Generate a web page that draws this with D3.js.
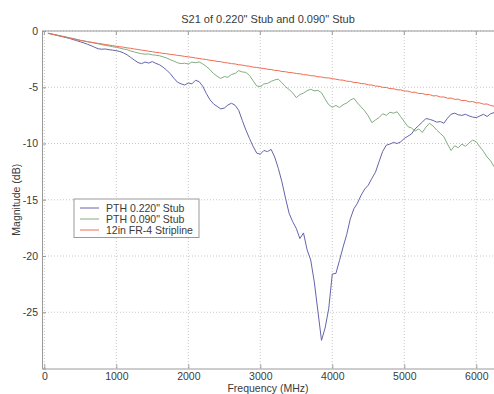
<!DOCTYPE html>
<html>
<head>
<meta charset="utf-8">
<script src="https://cdn.jsdelivr.net/npm/d3@7"></script>
<style>
  html, body { margin: 0; padding: 0; background: #fff; }
  svg { display: block; font-family: "Liberation Sans", Arial, sans-serif; }
</style>
</head>
<body>
<svg id="chart" width="494" height="394"></svg>
<script>
// Frequency grid (MHz), 50 MHz spacing from 50 to 6250
const freqs = d3.range(50, 6251, 50);

// S21 magnitude (dB) — PTH via with 0.220" stub
const pth220 = [
  -0.20, -0.27, -0.35, -0.42, -0.50, -0.58, -0.66, -0.76, -0.86, -0.96,
  -1.06, -1.18, -1.30, -1.45, -1.58, -1.62, -1.60, -1.66, -1.70, -1.75,
  -1.82, -1.95, -2.12, -2.35, -2.58, -2.80, -2.90, -2.76, -2.85, -2.72,
  -2.88, -3.00, -3.22, -3.48, -3.80, -4.20, -4.55, -4.70, -4.80, -4.62,
  -4.70, -4.38, -4.50, -4.90, -5.55, -6.10, -6.48, -6.70, -6.92, -6.85,
  -6.58, -6.42, -6.60, -7.05, -7.95, -8.80, -9.55, -10.25, -10.85, -10.95,
  -10.62, -10.72, -10.52, -11.20, -12.20, -13.40, -14.85, -16.20, -16.95, -17.55,
  -18.45, -17.95, -19.45, -20.35, -22.30, -24.90, -27.50, -26.40, -24.70, -21.60,
  -21.55, -20.40, -19.20, -18.10, -16.70, -15.80, -15.30, -14.60, -14.05, -13.70,
  -13.10, -12.55, -11.60, -10.70, -10.15, -10.05, -9.90, -10.00, -9.85, -9.55,
  -9.35, -9.15, -8.70, -8.40, -8.10, -7.78, -7.85, -7.95, -8.10, -8.05,
  -8.20, -7.75, -7.40, -7.30, -7.45, -7.50, -7.40, -7.55, -7.65, -7.70,
  -7.55, -7.40, -7.60, -7.35, -7.25
];

// S21 magnitude (dB) — PTH via with 0.090" stub
const pth090 = [
  -0.20, -0.26, -0.33, -0.39, -0.46, -0.52, -0.60, -0.66, -0.74, -0.82,
  -0.88, -0.95, -1.01, -1.08, -1.14, -1.22, -1.28, -1.33, -1.40, -1.45,
  -1.52, -1.60, -1.66, -1.78, -1.86, -1.95, -2.02, -2.06, -2.04, -2.12,
  -2.15, -2.20, -2.30, -2.40, -2.55, -2.68, -2.82, -2.90, -2.86, -2.93,
  -2.76, -2.82, -2.75, -2.92, -3.15, -3.42, -3.78, -4.02, -4.22, -4.05,
  -4.12, -3.86, -3.78, -3.52, -3.64, -3.68, -3.95, -4.42, -4.88, -4.95,
  -4.70, -4.66, -4.48, -4.35, -4.28, -4.60, -4.95, -5.20, -5.50, -5.92,
  -5.65, -5.52, -5.30, -5.18, -5.32, -5.28, -5.48, -6.05, -6.55, -6.78,
  -6.62, -6.80, -6.55, -6.40, -6.15, -5.98, -6.40, -6.75, -7.10, -7.55,
  -8.15, -7.90, -7.70, -7.35, -7.50, -7.22, -7.30, -7.18, -7.62, -8.05,
  -8.50, -8.62, -8.90, -8.70, -9.02, -8.55, -8.20, -8.45, -8.80, -9.10,
  -9.40, -10.05, -10.62, -10.20, -10.38, -10.05, -10.25, -9.95, -9.70, -9.85,
  -10.30, -10.70, -11.20, -11.55, -12.10
];

// S21 magnitude (dB) — 12 in FR-4 stripline reference
const stripline = [
  -0.20, -0.27, -0.34, -0.42, -0.49, -0.56, -0.63, -0.70, -0.77, -0.84,
  -0.89, -0.95, -1.00, -1.05, -1.10, -1.15, -1.20, -1.25, -1.30, -1.35,
  -1.40, -1.44, -1.50, -1.54, -1.60, -1.64, -1.70, -1.74, -1.80, -1.84,
  -1.90, -1.93, -1.99, -2.02, -2.08, -2.11, -2.17, -2.20, -2.26, -2.30,
  -2.34, -2.40, -2.44, -2.50, -2.53, -2.60, -2.63, -2.70, -2.73, -2.80,
  -2.84, -2.90, -2.93, -3.00, -3.03, -3.10, -3.13, -3.21, -3.24, -3.30,
  -3.33, -3.40, -3.42, -3.50, -3.52, -3.60, -3.62, -3.69, -3.71, -3.78,
  -3.80, -3.88, -3.90, -3.97, -3.99, -4.07, -4.09, -4.16, -4.17, -4.24,
  -4.28, -4.35, -4.37, -4.46, -4.48, -4.57, -4.58, -4.68, -4.69, -4.79,
  -4.80, -4.90, -4.91, -5.01, -5.02, -5.12, -5.13, -5.23, -5.23, -5.34,
  -5.34, -5.45, -5.44, -5.56, -5.55, -5.66, -5.65, -5.77, -5.75, -5.87,
  -5.86, -5.98, -5.96, -6.08, -6.06, -6.19, -6.17, -6.30, -6.27, -6.38,
  -6.39, -6.50, -6.49, -6.63, -6.68
];

const seriesNames = ["PTH 0.220\" Stub", "PTH 0.090\" Stub", "12in FR-4 Stripline"];
const seriesColors = ["#6464aa", "#82ac82", "#ee6c52"];
const xTicks = [0, 1000, 2000, 3000, 4000, 5000, 6000];
const yTicks = [0, -5, -10, -15, -20, -25];

(function draw() {
  const svg = d3.select("#chart");
  const pL = 42, pR = 494, pT = 31, pB = 368.5;

  const x = d3.scaleLinear().domain([-32, 6246]).range([pL, pR]);
  const y = d3.scaleLinear().domain([-30, 0]).range([pB, pT]);

  const textColor = "#3a3a3a";
  const axisColor = "#9a9a9a";
  const fontSize = "10.5px";

  // dotted grid
  const grid = svg.append("g");
  grid.selectAll("line.gx").data(xTicks).join("line")
    .attr("x1", d => x(d)).attr("x2", d => x(d))
    .attr("y1", pT).attr("y2", pB)
    .attr("stroke", "#c8c8c8").attr("stroke-width", 1)
    .attr("stroke-dasharray", "1,2");
  grid.selectAll("line.gy").data(yTicks).join("line")
    .attr("x1", pL).attr("x2", pR)
    .attr("y1", d => y(d)).attr("y2", d => y(d))
    .attr("stroke", "#c8c8c8").attr("stroke-width", 1)
    .attr("stroke-dasharray", "1,2");

  // data curves
  svg.append("clipPath").attr("id", "plotclip").append("rect")
    .attr("x", pL).attr("y", pT).attr("width", pR - pL).attr("height", pB - pT);

  const line = d3.line().x((d, i) => x(freqs[i])).y(d => y(d));
  const curves = svg.append("g").attr("clip-path", "url(#plotclip)");
  [pth220, pth090, stripline].forEach((vals, k) => {
    curves.append("path")
      .datum(vals)
      .attr("d", line)
      .attr("fill", "none")
      .attr("stroke", seriesColors[k])
      .attr("stroke-width", 1)
      .attr("stroke-linejoin", "round");
  });

  // axes with inward ticks (box style)
  const xAxis = d3.axisBottom(x).tickValues(xTicks).tickSize(-4).tickPadding(4)
    .tickFormat(d3.format("d"));
  const yAxis = d3.axisLeft(y).tickValues(yTicks).tickSize(-4).tickPadding(4)
    .tickFormat(d3.format("d"));

  const gx = svg.append("g").attr("transform", `translate(0,${pB})`).call(xAxis);
  const gy = svg.append("g").attr("transform", `translate(${pL},0)`).call(yAxis);
  [gx, gy].forEach(g => {
    g.select(".domain").attr("stroke", axisColor);
    g.selectAll(".tick line").attr("stroke", axisColor);
    g.selectAll(".tick text").attr("fill", textColor)
      .style("font-family", "'Liberation Sans', Arial, sans-serif").style("font-size", fontSize);
  });
  gy.selectAll(".tick text").text(d => d < 0 ? "-" + Math.abs(d) : d);

  // top box edge with inward ticks
  svg.append("line").attr("x1", pL).attr("x2", pR).attr("y1", pT).attr("y2", pT)
    .attr("stroke", axisColor);
  svg.append("g").selectAll("line").data(xTicks).join("line")
    .attr("x1", d => x(d)).attr("x2", d => x(d)).attr("y1", pT).attr("y2", pT + 4)
    .attr("stroke", axisColor);

  // titles
  svg.append("text").attr("x", (pL + pR) / 2).attr("y", 23)
    .attr("text-anchor", "middle").attr("fill", textColor).style("font-size", "11px")
    .text("S21 of 0.220\" Stub and 0.090\" Stub");
  svg.append("text").attr("x", (pL + pR) / 2).attr("y", 392)
    .attr("text-anchor", "middle").attr("fill", textColor).style("font-size", fontSize)
    .text("Frequency (MHz)");
  svg.append("text")
    .attr("transform", `translate(20,${(pT + pB) / 2}) rotate(-90)`)
    .attr("text-anchor", "middle").attr("fill", textColor).style("font-size", fontSize)
    .text("Magnitude (dB)");

  // legend
  const lg = svg.append("g").attr("transform", "translate(74,199)");
  lg.append("rect").attr("x", 0).attr("y", 0).attr("width", 125).attr("height", 38.5)
    .attr("fill", "#fff").attr("stroke", "#999").attr("stroke-width", 1);
  seriesNames.forEach((name, k) => {
    const cy = 9 + k * 11;
    lg.append("line").attr("x1", 6).attr("x2", 25).attr("y1", cy).attr("y2", cy)
      .attr("stroke", seriesColors[k]).attr("stroke-width", 1);
    lg.append("text").attr("x", 32).attr("y", cy + 4)
      .attr("fill", textColor).style("font-size", fontSize).text(name);
  });
})();
</script>
</body>
</html>
